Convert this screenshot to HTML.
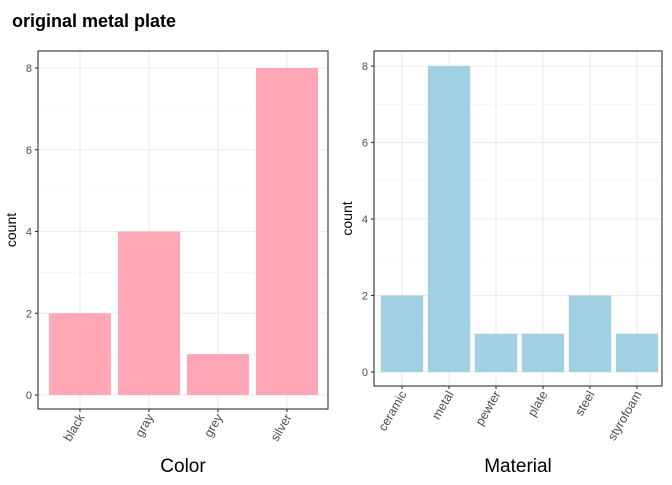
<!DOCTYPE html>
<html><head><meta charset="utf-8"><style>
body{margin:0;background:#fff;font-family:"Liberation Sans",Arial,sans-serif}
</style></head><body>
<svg id="c" width="672" height="480" xmlns="http://www.w3.org/2000/svg" font-family="Liberation Sans, Arial, sans-serif">
<rect width="672" height="480" fill="#fff"/>
<text x="12" y="27" font-size="18" font-weight="bold" fill="#000">original metal plate</text>
</svg>
<script>
const colorCats=["black","gray","grey","silver"];
const colorCounts=[2,4,1,8];
const matCats=["ceramic","metal","pewter","plate","steel","styrofoam"];
const matCounts=[2,8,1,1,2,1];
const yTicks=[0,2,4,6,8];
const svg=document.getElementById('c');
const NS='http://www.w3.org/2000/svg';
function el(t,a,p){const e=document.createElementNS(NS,t);for(const k in a)e.setAttribute(k,a[k]);(p||svg).appendChild(e);return e;}
function panel(o){
  const g=el('g',{});
  
  
  const y=v=>o.y0-(o.y0-o.y8)*v/8;
  const n=o.cats.length;
  const x=i=>o.c0+(o.cN-o.c0)*i/(n-1);
  const step=(o.cN-o.c0)/(n-1);
  for(let v=1;v<8;v+=2){el('line',{x1:o.L,x2:o.R,y1:y(v),y2:y(v),stroke:'#f2f2f2','stroke-width':0.6},g);}
  yTicks.forEach(v=>el('line',{x1:o.L,x2:o.R,y1:y(v),y2:y(v),stroke:'#ebebeb','stroke-width':1.1},g));
  o.cats.forEach((c,i)=>el('line',{x1:x(i),x2:x(i),y1:o.T,y2:o.B,stroke:'#ebebeb','stroke-width':1.1},g));
  o.vals.forEach((v,i)=>{
    const r=el('rect',{x:x(i)-step*0.45,width:step*0.9,y:y(v),height:y(0)-y(v),fill:o.fill},g);
    
    
  });
  el('rect',{x:o.L,y:o.T,width:o.R-o.L,height:o.B-o.T,fill:'none',stroke:'#333','stroke-width':1.1},g);
  yTicks.forEach(v=>{
    el('line',{x1:o.L-3,x2:o.L,y1:y(v),y2:y(v),stroke:'#333','stroke-width':1.1},g);
    const t=el('text',{x:o.L-6,y:y(v)+4,'font-size':11,fill:'#4d4d4d','text-anchor':'end'},g);t.textContent=v;
    
    
  });
  o.cats.forEach((c,i)=>{
    el('line',{x1:x(i),x2:x(i),y1:o.B,y2:o.B+3,stroke:'#333','stroke-width':1.1},g);
    const t=el('text',{transform:`translate(${x(i)+5},${o.B+8}) rotate(-60)`,'font-size':12.5,fill:'#4d4d4d','text-anchor':'end'},g);t.textContent=c;
    
    
  });
  const xt=el('text',{x:(o.L+o.R)/2,y:o.xtY,'font-size':19,'text-anchor':'middle',fill:'#000'},g);xt.textContent=o.xtitle;
  
  
  const yt=el('text',{transform:`translate(${o.L-22},${(o.T+o.B)/2}) rotate(-90)`,'font-size':14,'text-anchor':'middle',fill:'#000'},g);yt.textContent='count';
  
  
}
panel({name:'color-panel',cats:colorCats,vals:colorCounts,L:38,R:328,T:51,B:409,y0:395,y8:68,c0:80,cN:287,fill:'#ffa7b6',xtitle:'Color',xtY:472});
panel({name:'material-panel',cats:matCats,vals:matCounts,L:374,R:662,T:51,B:386,y0:372,y8:66,c0:402,cN:637,fill:'#a0d0e2',xtitle:'Material',xtY:472});
</script>
</body></html>
